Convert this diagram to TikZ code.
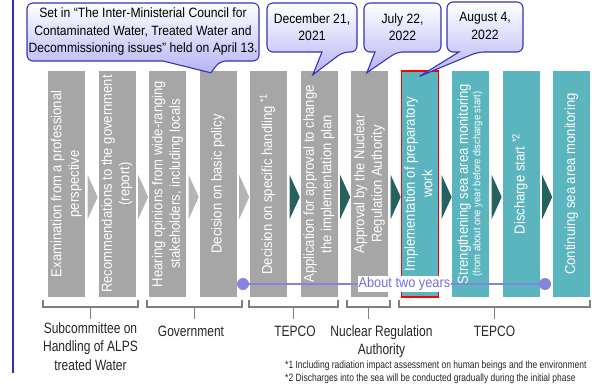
\documentclass[tikz,border=0pt]{standalone}
\usepackage{fontspec}
\setmainfont{Liberation Sans}
\newfontfamily\midfont{Liberation Sans}[FakeStretch=0.9]
\newfontfamily\narrowfont{Liberation Sans}[FakeStretch=0.8]
\usepackage{graphicx}
\usepackage{xcolor}
\usetikzlibrary{calc}

\definecolor{bargray}{HTML}{A6A6A6}
\definecolor{barteal}{HTML}{5BB5BE}
\definecolor{arrgray}{HTML}{B4B4B4}
\definecolor{arrteal}{HTML}{26605F}
\definecolor{calloutblue}{HTML}{B4B4F6}
\definecolor{calloutline}{HTML}{3535B5}
\definecolor{timeline}{HTML}{8585E0}
\definecolor{timetext}{HTML}{6E6EE4}
\definecolor{bracketgray}{HTML}{7F7F7F}
\definecolor{leftline}{HTML}{2B2BB5}

\newcommand{\vtext}[1]{\rotatebox{90}{\begin{tabular}{@{}c@{}}#1\end{tabular}}}
\newcommand{\ctext}[1]{\begin{tabular}[t]{@{}c@{}}#1\end{tabular}}
\newcommand{\callout}[7]{\draw[callout] (#5,#4) [rounded corners=6pt] -- (#1,#4) -- (#1,#2) -- (#3,#2) -- (#3,#4) -- (#6,#4) [sharp corners] -- #7 -- cycle;}

\tikzset{
  bar/.style={minimum width=37pt, minimum height=226pt, inner sep=0pt, text=white,
    font=\midfont\fontsize{14.5}{17.5}\selectfont},
  callout/.style={draw=calloutline, line width=1.1pt, top color=white, bottom color=calloutblue},
  calltext/.style={align=center, inner sep=0pt, font=\midfont\fontsize{13.5}{17.5}\selectfont},
  bracket/.style={draw=bracketgray, line width=1.1pt},
  grp/.style={anchor=base, inner sep=0pt, text=black!85, font=\narrowfont\fontsize{15}{18.5}\selectfont},
  dot/.style={circle, fill=timeline, minimum size=12pt, inner sep=0pt},
  foot/.style={anchor=base west, inner sep=0pt, text=black!85, font=\narrowfont\fontsize{10.6}{12}\selectfont}
}

\begin{document}
\begin{tikzpicture}[x=1pt, y=1pt]
\useasboundingbox (0,0) rectangle (594,384);
\draw[leftline, line width=1.6pt] (13,384) -- (13,11);

\node[bar, fill=bargray] (b1) at (66.5,200) {\vtext{Examination from a professional\\perspective}};
\node[bar, fill=bargray] (b2) at (117,200) {\vtext{Recommendations to the government\\(report)}};
\node[bar, fill=bargray] (b3) at (167.5,200) {\vtext{Hearing opinions from wide-ranging\\stakeholders, including locals}};
\node[bar, fill=bargray] (b4) at (218,200) {\vtext{Decision on basic policy}};
\node[bar, fill=bargray] (b5) at (268.5,200) {\vtext{Decision on specific handling \textsuperscript{*1}}};
\node[bar, fill=bargray] (b6) at (319,200) {\vtext{Application for approval to change\\the implementation plan}};
\node[bar, fill=bargray] (b7) at (369.5,200) {\vtext{Approval by the Nuclear\\Regulation Authority}};
\node[bar, fill=barteal, draw=red, line width=1.2pt] (b8) at (420,200) {\vtext{Implementation of preparatory\\work}};
\node[bar, fill=barteal] (b9) at (470.5,200) {\vtext{Strengthening sea area monitoring\\[-5pt]{\fontsize{10.5}{11}\selectfont (from about one year before discharge start)}}};
\node[bar, fill=barteal] (b10) at (521,200) {\vtext{Discharge start \textsuperscript{*2}}};
\node[bar, fill=barteal] (b11) at (571.5,200) {\vtext{Continuing sea area monitoring}};

\foreach \i/\c in {1/arrgray,2/arrgray,3/arrgray,4/arrgray,5/arrteal,6/arrteal,7/arrteal,8/arrteal,9/arrteal,10/arrteal}
  \fill[\c] ($(b\i.east)+(2.5,-35)$) -- ($(b\i.east)+(12.5,-13)$) -- ($(b\i.east)+(2.5,9)$) -- cycle;

\callout{27}{381}{259}{323}{163}{220}{($(b4.north west)+(11.5,-2)$)}
\callout{267}{381}{357}{332}{322}{343}{($(b6.north west)+(12.5,-4)$)}
\callout{364}{381}{441}{332}{375}{397}{($(b7.north west)+(16,-2)$)}
\callout{447}{382}{523}{332}{459}{478}{($(b8.north west)+(18.5,-6)$)}
\node[calltext] (c1) at (143,352) {Set in “The Inter-Ministerial Council for\\Contaminated Water, Treated Water and\\Decommissioning issues” held on April 13.};
\node[calltext] (c2) at (312,357) {December 21,\\2021};
\node[calltext] (c3) at (402.5,357) {July 22,\\2022};
\node[calltext] (c4) at (485,358) {August 4,\\2022};

\foreach \a/\b in {43/138,147/242,249/338,347/390,399/590}
  \draw[bracket] (\a,84) -- (\a,77) -- (\b,77) -- (\b,84) ({(\a+\b)/2},77) -- ({(\a+\b)/2},65);
\node[grp] (g1) at (90.5,51) {\ctext{Subcommittee on\\Handling of ALPS\\treated Water}};
\node[grp] (g2) at (191,48) {Government};
\node[grp] (g3) at (295,48) {TEPCO};
\node[grp] (g4) at (381.5,48) {\ctext{Nuclear Regulation\\Authority}};
\node[grp] (g5) at (494.5,48) {TEPCO};

\node[dot] (t1) at (243,100) {};
\node[dot] (t2) at (545,100) {};
\draw[timeline, line width=1.3pt] (t1) -- (t2)
  node[pos=0.536, fill=white, inner sep=1pt, text=timetext, font=\midfont\fontsize{14.2}{15}\selectfont] (t3) {About two years};

\node[foot] (f1) at (285,16) {*1 Including radiation impact assessment on human beings and the environment};
\node[foot] (f2) at (285,2.5) {*2 Discharges into the sea will be conducted gradually during the initial phase};
\end{tikzpicture}
\end{document}
